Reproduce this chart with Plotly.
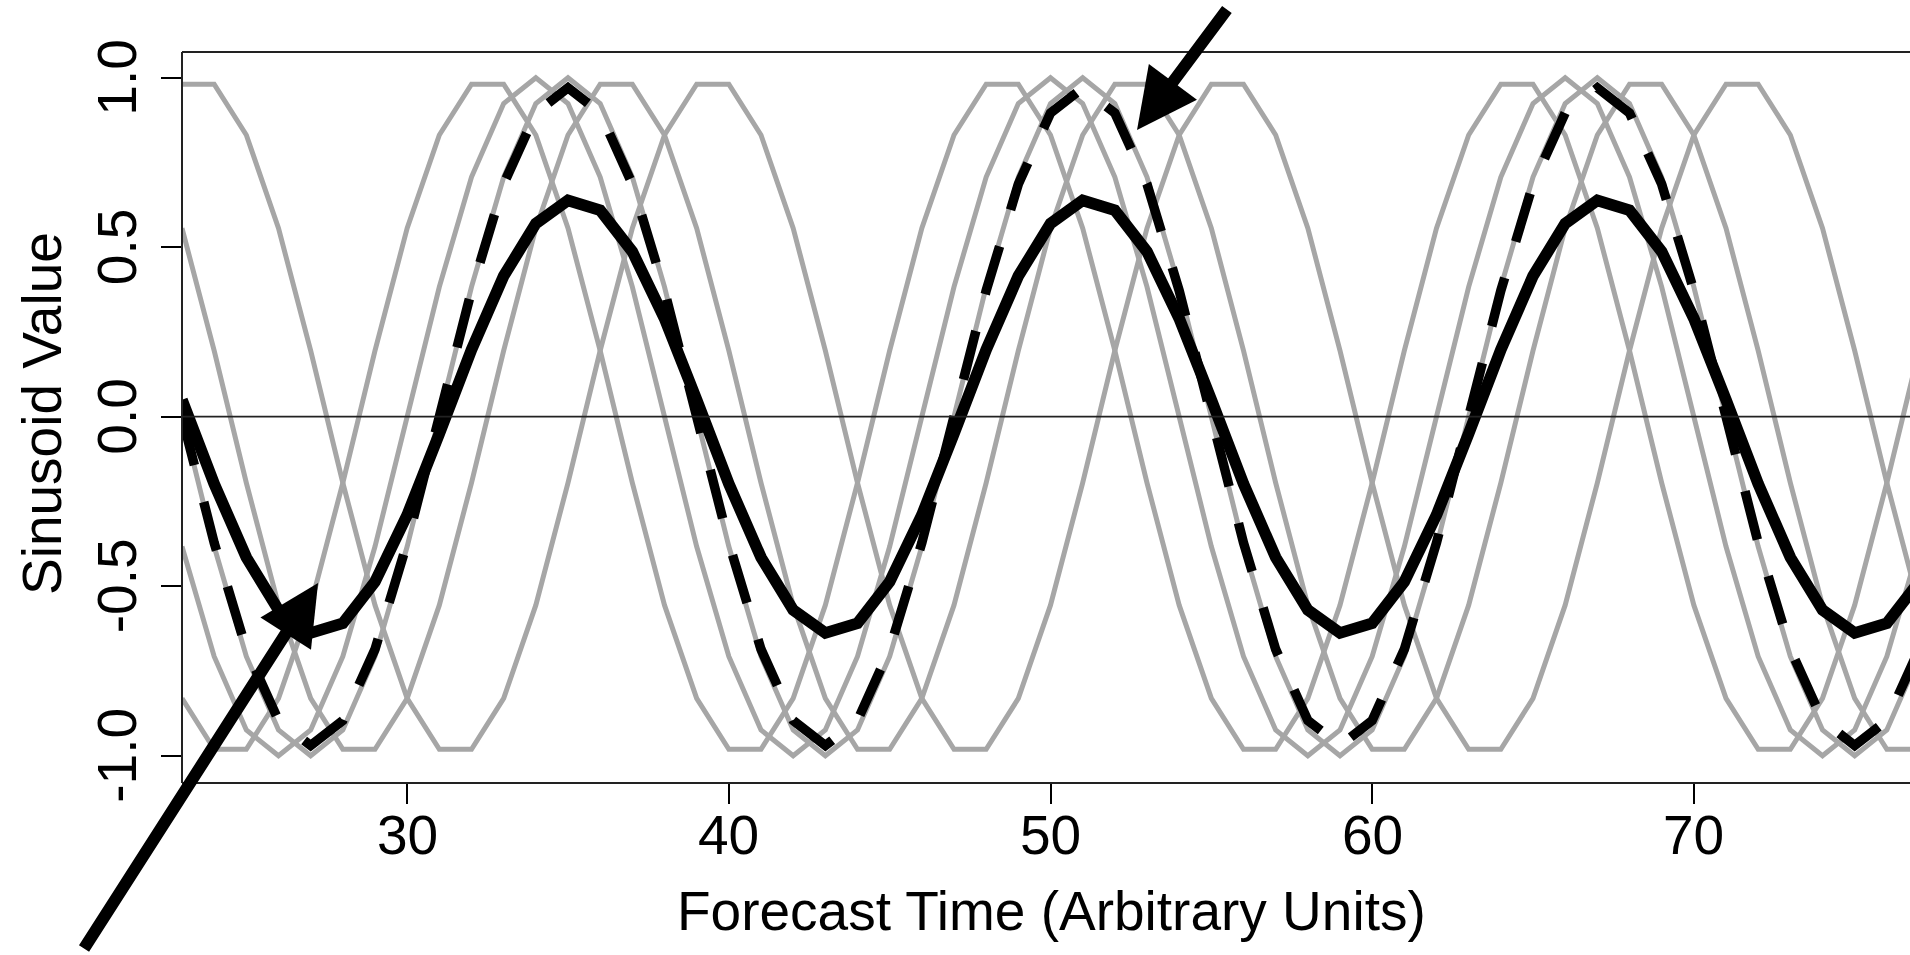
import plotly.graph_objects as go

# Forecast time (integer steps)
forecast_time = list(range(23, 78))

# Five grey ensemble members
member_1 = [-0.831, -0.981, -0.981, -0.831, -0.556, -0.195, 0.195, 0.556, 0.831, 0.981, 0.981, 0.831, 0.556, 0.195, -0.195, -0.556,
            -0.831, -0.981, -0.981, -0.831, -0.556, -0.195, 0.195, 0.556, 0.831, 0.981, 0.981, 0.831, 0.556, 0.195, -0.195, -0.556,
            -0.831, -0.981, -0.981, -0.831, -0.556, -0.195, 0.195, 0.556, 0.831, 0.981, 0.981, 0.831, 0.556, 0.195, -0.195, -0.556,
            -0.831, -0.981, -0.981, -0.831, -0.556, -0.195, 0.195]
member_2 = [-0.383, -0.707, -0.924, -1.0, -0.924, -0.707, -0.383, 0.0, 0.383, 0.707, 0.924, 1.0, 0.924, 0.707, 0.383, 0.0,
            -0.383, -0.707, -0.924, -1.0, -0.924, -0.707, -0.383, 0.0, 0.383, 0.707, 0.924, 1.0, 0.924, 0.707, 0.383, 0.0,
            -0.383, -0.707, -0.924, -1.0, -0.924, -0.707, -0.383, 0.0, 0.383, 0.707, 0.924, 1.0, 0.924, 0.707, 0.383, 0.0,
            -0.383, -0.707, -0.924, -1.0, -0.924, -0.707, -0.383]
member_3 = [0.0, -0.383, -0.707, -0.924, -1.0, -0.924, -0.707, -0.383, 0.0, 0.383, 0.707, 0.924, 1.0, 0.924, 0.707, 0.383,
            0.0, -0.383, -0.707, -0.924, -1.0, -0.924, -0.707, -0.383, 0.0, 0.383, 0.707, 0.924, 1.0, 0.924, 0.707, 0.383,
            0.0, -0.383, -0.707, -0.924, -1.0, -0.924, -0.707, -0.383, 0.0, 0.383, 0.707, 0.924, 1.0, 0.924, 0.707, 0.383,
            0.0, -0.383, -0.707, -0.924, -1.0, -0.924, -0.707]
member_4 = [0.556, 0.195, -0.195, -0.556, -0.831, -0.981, -0.981, -0.831, -0.556, -0.195, 0.195, 0.556, 0.831, 0.981, 0.981, 0.831,
            0.556, 0.195, -0.195, -0.556, -0.831, -0.981, -0.981, -0.831, -0.556, -0.195, 0.195, 0.556, 0.831, 0.981, 0.981, 0.831,
            0.556, 0.195, -0.195, -0.556, -0.831, -0.981, -0.981, -0.831, -0.556, -0.195, 0.195, 0.556, 0.831, 0.981, 0.981, 0.831,
            0.556, 0.195, -0.195, -0.556, -0.831, -0.981, -0.981]
member_5 = [0.981, 0.981, 0.831, 0.556, 0.195, -0.195, -0.556, -0.831, -0.981, -0.981, -0.831, -0.556, -0.195, 0.195, 0.556, 0.831,
            0.981, 0.981, 0.831, 0.556, 0.195, -0.195, -0.556, -0.831, -0.981, -0.981, -0.831, -0.556, -0.195, 0.195, 0.556, 0.831,
            0.981, 0.981, 0.831, 0.556, 0.195, -0.195, -0.556, -0.831, -0.981, -0.981, -0.831, -0.556, -0.195, 0.195, 0.556, 0.831,
            0.981, 0.981, 0.831, 0.556, 0.195, -0.195, -0.556]

# Dashed black curve
dashed_curve = [0.0, -0.372, -0.686, -0.896, -0.97, -0.896, -0.686, -0.372, 0.0, 0.372, 0.686, 0.896, 0.97, 0.896, 0.686, 0.372,
                0.0, -0.372, -0.686, -0.896, -0.97, -0.896, -0.686, -0.372, 0.0, 0.372, 0.686, 0.896, 0.97, 0.896, 0.686, 0.372,
                0.0, -0.372, -0.686, -0.896, -0.97, -0.896, -0.686, -0.372, 0.0, 0.372, 0.686, 0.896, 0.97, 0.896, 0.686, 0.372,
                0.0, -0.372, -0.686, -0.896, -0.97, -0.896, -0.686]

# Solid black curve (ensemble mean)
mean_curve = [0.050, -0.198, -0.415, -0.570, -0.638, -0.609, -0.487, -0.290, -0.050, 0.198, 0.415, 0.570, 0.638, 0.609, 0.487, 0.290,
              0.050, -0.198, -0.415, -0.570, -0.638, -0.609, -0.487, -0.290, -0.050, 0.198, 0.415, 0.570, 0.638, 0.609, 0.487, 0.290,
              0.050, -0.198, -0.415, -0.570, -0.638, -0.609, -0.487, -0.290, -0.050, 0.198, 0.415, 0.570, 0.638, 0.609, 0.487, 0.290,
              0.050, -0.198, -0.415, -0.570, -0.638, -0.609, -0.487]

x_tick_vals = [30, 40, 50, 60, 70]
x_tick_text = ["30", "40", "50", "60", "70"]
y_tick_vals = [-1.0, -0.5, 0.0, 0.5, 1.0]
y_tick_text = ["-1.0", "-0.5", "0.0", "0.5", "1.0"]

FONT = "Liberation Sans, Arial, sans-serif"
GREY = "#A6A6A6"
PLOT_W = 1728
PLOT_H = 731

fig = go.Figure()
for member in [member_1, member_2, member_3, member_4, member_5]:
    fig.add_trace(go.Scatter(x=forecast_time, y=member, mode="lines",
                             line=dict(color=GREY, width=5), hoverinfo="skip", showlegend=False))
fig.add_trace(go.Scatter(x=forecast_time, y=dashed_curve, mode="lines",
                         line=dict(color="black", width=9.5, dash="50px,38px"), hoverinfo="skip", showlegend=False))
fig.add_trace(go.Scatter(x=forecast_time, y=mean_curve, mode="lines",
                         line=dict(color="black", width=11.5), hoverinfo="skip", showlegend=False))

fig.update_layout(
    width=1910, height=955,
    margin=dict(l=182, r=0, t=52, b=172),
    paper_bgcolor="white", plot_bgcolor="white",
    showlegend=False,
    font=dict(family=FONT, size=55, color="black"),
)
fig.update_xaxes(range=[23.0, 76.72], tickvals=x_tick_vals, showticklabels=False, ticks="outside",
                 ticklen=20, tickwidth=2, tickcolor="black", showgrid=False, zeroline=False, showline=False)
fig.update_yaxes(range=[-1.0805, 1.0758], tickvals=y_tick_vals, showticklabels=False,
                 ticks="outside", ticklen=20, tickwidth=2, tickcolor="black", showgrid=False,
                 zeroline=False, showline=False)

# Tick labels placed as annotations
for v, t in zip(x_tick_vals, x_tick_text):
    fig.add_annotation(text=t, xref="x", yref="paper", x=v, y=(783 - 835) / PLOT_H,
                       xanchor="center", yanchor="middle", showarrow=False,
                       font=dict(family=FONT, size=55, color="black"))
for v, t in zip(y_tick_vals, y_tick_text):
    fig.add_annotation(text=t, xref="paper", yref="y", x=(117 - 182) / PLOT_W, y=v,
                       xanchor="center", yanchor="middle", showarrow=False, textangle=-90,
                       font=dict(family=FONT, size=55, color="black"))

frame = dict(color="#222222", width=2)
fig.add_shape(type="line", xref="paper", yref="paper", x0=0, x1=0, y0=0, y1=1, line=frame, layer="above")
fig.add_shape(type="line", xref="paper", yref="paper", x0=0, x1=1, y0=1, y1=1, line=frame, layer="above")
fig.add_shape(type="line", xref="paper", yref="paper", x0=0, x1=1, y0=0, y1=0, line=frame, layer="above")
fig.add_shape(type="line", xref="paper", yref="y", x0=0, x1=1, y0=0, y1=0,
              line=dict(color="#222222", width=1.8), layer="above")

# Axis titles
fig.add_annotation(text="Forecast Time (Arbitrary Units)", xref="paper", yref="paper",
                   x=0.5029, y=-0.1751, xanchor="center", yanchor="middle", showarrow=False,
                   font=dict(family=FONT, size=55, color="black"))
fig.add_annotation(text="Sinusoid Value", xref="paper", yref="paper",
                   x=(42 - 182) / PLOT_W, y=0.5048, xanchor="center", yanchor="middle", showarrow=False,
                   textangle=-90, font=dict(family=FONT, size=55, color="black"))

# Arrows
fig.add_annotation(x=52.69, y=0.8457, xref="x", yref="y", ax=91, ay=-122, axref="pixel", ayref="pixel",
                   text="", showarrow=True, arrowhead=2, arrowsize=1.0, arrowwidth=12, arrowcolor="black",
                   standoff=0)
fig.add_annotation(x=27.23, y=-0.4906, xref="x", yref="y", ax=-235, ay=367, axref="pixel", ayref="pixel",
                   text="", showarrow=True, arrowhead=2, arrowsize=1.0, arrowwidth=12, arrowcolor="black",
                   standoff=0)

fig.write_html("out.html")
